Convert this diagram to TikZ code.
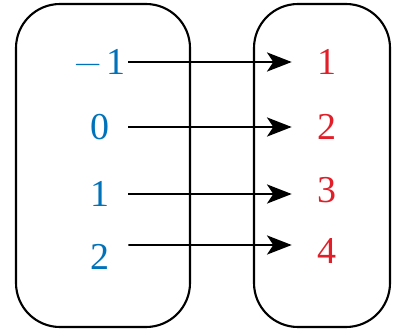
\documentclass[tikz,border=0pt]{standalone}
\usepackage{amsmath}
\usepackage{amssymb}
\usepackage{fontspec}
\setmainfont{Liberation Serif}
\newfontfamily\minusfont{Latin Modern Roman}
\usetikzlibrary{arrows.meta}

\definecolor{domblue}{RGB}{0,114,185}
\definecolor{rngred}{RGB}{226,30,40}

\tikzset{
    lnum/.style={text=domblue, font=\fontsize{27}{32}\selectfont, inner sep=0pt, minimum width=1.4cm},
    rnum/.style={text=rngred, font=\fontsize{27}{32}\selectfont, inner sep=0pt, minimum width=1.75cm},
    arr/.style={line width=1.3pt, -{Stealth[length=0.62cm, width=0.48cm, inset=0.16cm]}}
}

\begin{document}
\begin{tikzpicture}[x=0.025cm, y=-0.025cm]
    \useasboundingbox (0,0) rectangle (393,329);
    \draw[line width=1.5pt, rounded corners=1.1cm] (16,4) rectangle (190,327);
    \draw[line width=1.5pt, rounded corners=1.1cm] (254,4) rectangle (390,327);

    \node[lnum] (a1) at (100,62) {{\minusfont −}\kern4pt1};
    \node[lnum] (a2) at (100,127) {0};
    \node[lnum] (a3) at (100,194) {1};
    \node[lnum] (a4) at (100,257) {2};

    \node[rnum] (b1) at (327,62) {1};
    \node[rnum] (b2) at (327,127) {2};
    \node[rnum] (b3) at (327,190) {3};
    \node[rnum] (b4) at (327,251) {4};

    \draw[arr] (a1.east) -- (b1.west |- a1.east);
    \draw[arr] (a2.east) -- (b2.west);
    \draw[arr] (a3.east) -- (b3.west |- a3.east);
    \draw[arr] ([yshift=0.3cm]a4.east) -- ([yshift=0.15cm]b4.west);
\end{tikzpicture}
\end{document}
